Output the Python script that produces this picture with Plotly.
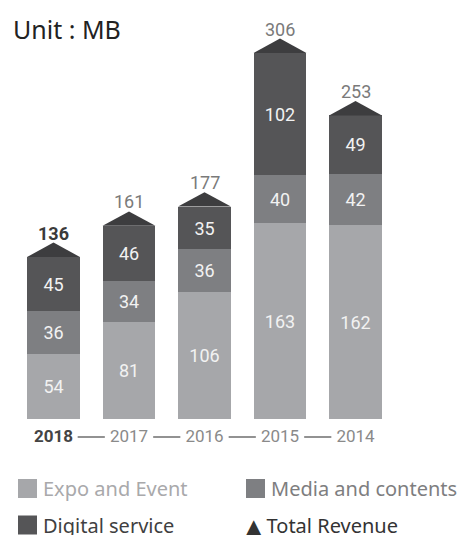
import plotly.graph_objects as go

years = ["2018", "2017", "2016", "2015", "2014"]
expo = [54, 81, 106, 163, 162]
media = [36, 34, 36, 40, 42]
digital = [45, 46, 35, 102, 49]
totals = [136, 161, 177, 306, 253]

C_EXPO = "#a6a7aa"
C_MEDIA = "#7e7f82"
C_DIGITAL = "#555557"
C_TRI = "#3d3d3f"
NUM_FONT = "Roboto, DejaVu Sans Condensed, sans-serif"
TXT_FONT = "Noto Sans, DejaVu Sans, sans-serif"

W = 461
H = 535
BOTTOM = 116
PLOT_H = H - BOTTOM
PX_PER_UNIT = 1.2
SPACING = 75.5
FIRST = 53.5
BAR_W = 0.70
TRI_H = 12

xs = list(range(len(years)))
x0 = -FIRST / SPACING
x1 = x0 + W / SPACING

fig = go.Figure()
for name, vals, col in [("Expo and Event", expo, C_EXPO),
                        ("Media and contents", media, C_MEDIA),
                        ("Digital service", digital, C_DIGITAL)]:
    fig.add_trace(go.Bar(
        x=xs, y=vals, name=name, marker=dict(color=col, line=dict(width=0)),
        width=BAR_W, text=[str(v) for v in vals], textposition="inside",
        insidetextanchor="middle", textangle=0,
        textfont=dict(family=NUM_FONT, size=18, color="#f2f2f2"),
        showlegend=False, hoverinfo="skip",
    ))

# triangles on top of stacks
for i in xs:
    base = expo[i] + media[i] + digital[i]
    fig.add_trace(go.Scatter(
        x=[i - BAR_W / 2, i, i + BAR_W / 2, i - BAR_W / 2],
        y=[base, base + TRI_H, base, base],
        mode="lines", fill="toself", fillcolor=C_TRI,
        line=dict(width=0, color=C_TRI), showlegend=False, hoverinfo="skip",
    ))
    fig.add_annotation(
        x=i, y=base + TRI_H, xref="x", yref="y",
        text=(f"<b>{totals[i]}</b>" if i == 0 else str(totals[i])),
        showarrow=False, yanchor="bottom", yshift=-3,
        font=dict(family=NUM_FONT, size=18, color="#3a3a3a" if i == 0 else "#7a7a7a"),
    )

# dashes between year labels
for i in xs[:-1]:
    fig.add_shape(type="line", xref="x", yref="paper",
                  x0=i + 0.32, x1=i + 0.68, y0=-18 / PLOT_H, y1=-18 / PLOT_H,
                  line=dict(color="#6e6e6e", width=1.5))

ticktext = [f"<b><span style='color:#444444'>{y}</span></b>" if k == 0 else y for k, y in enumerate(years)]

fig.update_layout(
    width=W, height=H, margin=dict(l=0, r=0, t=0, b=BOTTOM),
    barmode="stack", bargap=0, plot_bgcolor="white", paper_bgcolor="white",
    xaxis=dict(range=[x0, x1], tickvals=xs, ticktext=ticktext, showgrid=False,
               zeroline=False, showline=False, ticks="", ticklabelstandoff=5,
               tickfont=dict(family=NUM_FONT, size=17, color="#8a8a8a")),
    yaxis=dict(range=[0, PLOT_H / PX_PER_UNIT], visible=False),
    showlegend=False,
)

fig.add_annotation(x=11 / W, y=(PLOT_H - 29) / PLOT_H, xref="paper", yref="paper",
                   text="Unit : MB", showarrow=False, xanchor="left", yanchor="middle",
                   font=dict(family=TXT_FONT, size=25, color="#222222"))

# manual legend
legend_items = [
    ("Expo and Event", C_EXPO, "#a9a9ab", 18, 488.5),
    ("Media and contents", C_MEDIA, "#7e7e80", 246, 488.5),
    ("Digital service", C_DIGITAL, "#3f3f41", 18, 525),
]
for label, col, tcol, px, py in legend_items:
    fig.add_shape(type="rect", xref="paper", yref="paper",
                  x0=px / W, x1=(px + 19) / W,
                  y0=(PLOT_H - (py - 9.5)) / PLOT_H, y1=(PLOT_H - (py + 9.5)) / PLOT_H,
                  fillcolor=col, line=dict(width=0))
    fig.add_annotation(x=(px + 23) / W, y=(PLOT_H - py) / PLOT_H, xref="paper", yref="paper",
                       text=label, showarrow=False, xanchor="left", yanchor="middle",
                       font=dict(family=TXT_FONT, size=20, color=tcol))
fig.add_annotation(x=244 / W, y=(PLOT_H - 525) / PLOT_H, xref="paper", yref="paper",
                   text="▲ Total Revenue", showarrow=False, xanchor="left", yanchor="middle",
                   font=dict(family=TXT_FONT, size=20, color="#333333"))

fig.write_html("out.html", config={"displayModeBar": False},
               post_script="document.body.style.margin='0';")
